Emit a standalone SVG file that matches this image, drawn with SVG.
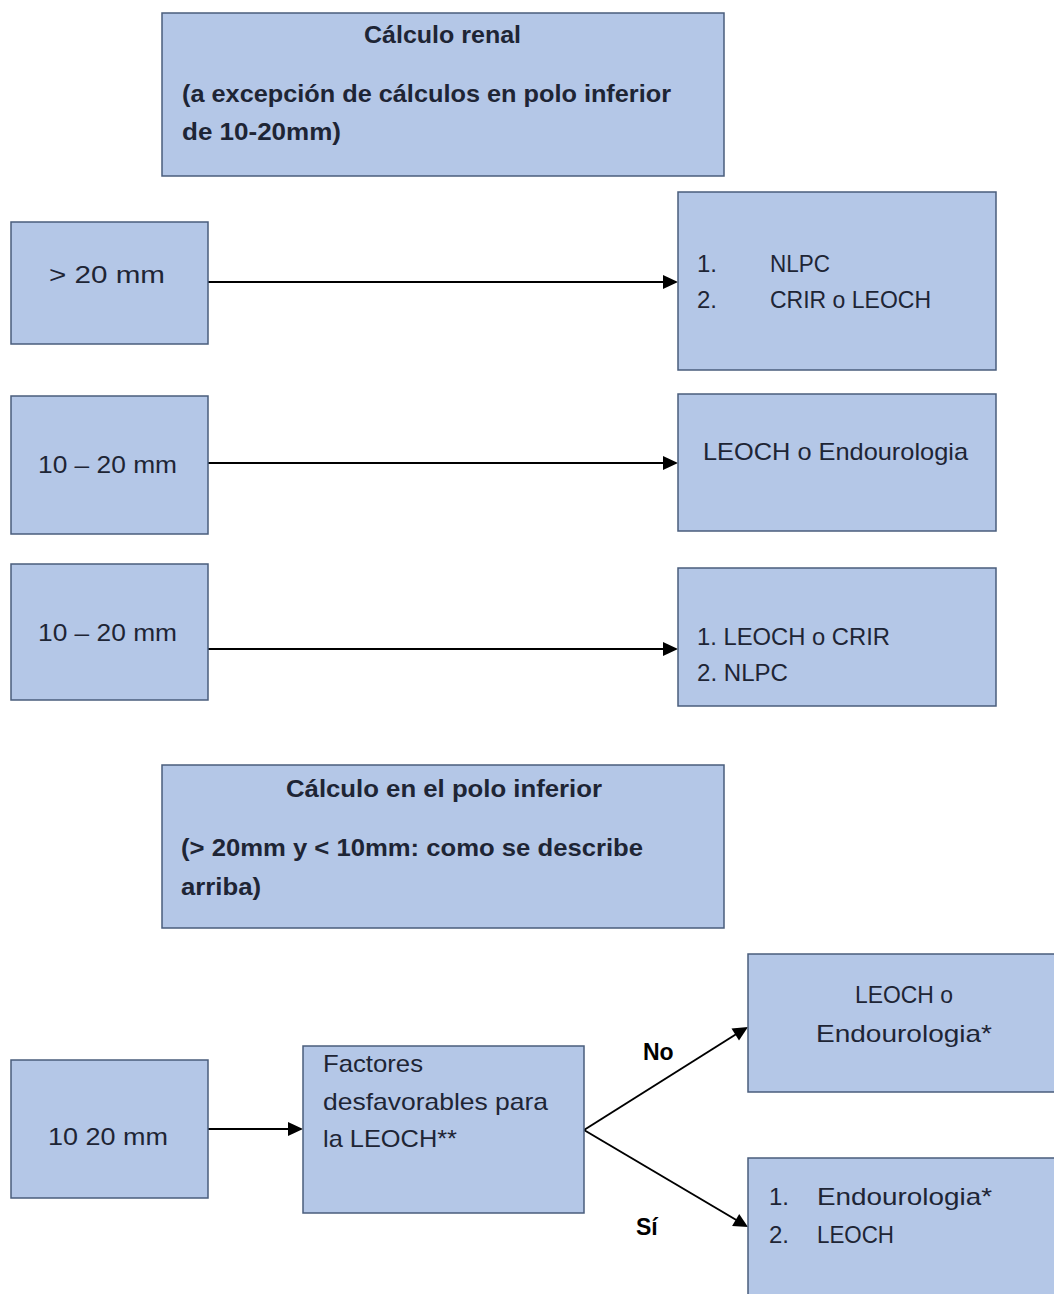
<svg xmlns="http://www.w3.org/2000/svg" width="1054" height="1294" viewBox="0 0 1054 1294">
<style>
.box{fill:#b4c7e7;stroke:#4a5d7c;stroke-width:1.5}
.t{font-family:"Liberation Sans",Arial,sans-serif;font-size:24px;fill:#1e2535}
.b{font-weight:bold}
.lbl{font-family:"Liberation Sans",Arial,sans-serif;font-size:23px;font-weight:bold;fill:#000}
.c{stroke:#000;stroke-width:2;fill:none}
.h{fill:#000}
</style>
<rect width="1054" height="1294" fill="#fff"/>
<g id="connectors">
<line class="c" x1="208" y1="282" x2="666" y2="282"/>
<path class="h" d="M663,275 L678,282 L663,289 z"/>
<line class="c" x1="208" y1="463" x2="666" y2="463"/>
<path class="h" d="M663,456 L678,463 L663,470 z"/>
<line class="c" x1="208" y1="649" x2="666" y2="649"/>
<path class="h" d="M663,642 L678,649 L663,656 z"/>
<line class="c" x1="208" y1="1129" x2="291" y2="1129"/>
<path class="h" d="M288,1122 L303,1129 L288,1136 z"/>
<line class="c" x1="584" y1="1130" x2="738" y2="1033"/>
<path class="h" d="M731.5,1028.6 L748,1027 L739.0,1040.5 z"/>
<line class="c" x1="584" y1="1130" x2="738" y2="1221"/>
<path class="h" d="M739.2,1214.1 L748,1227 L732.1,1226.1 z"/>
<text class="lbl" x="643" y="1060">No</text>
<text class="lbl" x="636" y="1235">Sí</text>
</g>
<g id="n_renal">
<rect class="box" x="162" y="13" width="562" height="163"/>
<text class="t b" x="364" y="43" textLength="157" lengthAdjust="spacingAndGlyphs">Cálculo renal</text>
<text class="t b" x="182" y="102" textLength="489" lengthAdjust="spacingAndGlyphs">(a excepción de cálculos en polo inferior</text>
<text class="t b" x="182" y="140" textLength="159" lengthAdjust="spacingAndGlyphs">de 10-20mm)</text>
</g>
<g id="n_gt20">
<rect class="box" x="11" y="222" width="197" height="122"/>
<text class="t" x="49" y="283" textLength="116" lengthAdjust="spacingAndGlyphs">&gt;  20 mm</text>
</g>
<g id="n_nlpc">
<rect class="box" x="678" y="192" width="318" height="178"/>
<text class="t" x="697" y="272">1.</text>
<text class="t" x="770" y="272" textLength="60" lengthAdjust="spacingAndGlyphs">NLPC</text>
<text class="t" x="697" y="308">2.</text>
<text class="t" x="770" y="308" textLength="161" lengthAdjust="spacingAndGlyphs">CRIR o LEOCH</text>
</g>
<g id="n_1020a">
<rect class="box" x="11" y="396" width="197" height="138"/>
<text class="t" x="38" y="473" textLength="139" lengthAdjust="spacingAndGlyphs">10 – 20 mm</text>
</g>
<g id="n_leoch_endo">
<rect class="box" x="678" y="394" width="318" height="137"/>
<text class="t" x="703" y="460" textLength="265" lengthAdjust="spacingAndGlyphs">LEOCH o Endourologia</text>
</g>
<g id="n_1020b">
<rect class="box" x="11" y="564" width="197" height="136"/>
<text class="t" x="38" y="641" textLength="139" lengthAdjust="spacingAndGlyphs">10 – 20 mm</text>
</g>
<g id="n_leoch_crir">
<rect class="box" x="678" y="568" width="318" height="138"/>
<text class="t" x="697" y="645" textLength="193" lengthAdjust="spacingAndGlyphs">1. LEOCH o CRIR</text>
<text class="t" x="697" y="681" textLength="91" lengthAdjust="spacingAndGlyphs">2. NLPC</text>
</g>
<g id="n_polo">
<rect class="box" x="162" y="765" width="562" height="163"/>
<text class="t b" x="286" y="797" textLength="316" lengthAdjust="spacingAndGlyphs">Cálculo en el polo inferior</text>
<text class="t b" x="181" y="856" textLength="462" lengthAdjust="spacingAndGlyphs">(&gt; 20mm y &lt; 10mm:  como se describe</text>
<text class="t b" x="181" y="895" textLength="80" lengthAdjust="spacingAndGlyphs">arriba)</text>
</g>
<g id="n_1020c">
<rect class="box" x="11" y="1060" width="197" height="138"/>
<text class="t" x="48" y="1145" textLength="120" lengthAdjust="spacingAndGlyphs">10 20  mm</text>
</g>
<g id="n_factores">
<rect class="box" x="303" y="1046" width="281" height="167"/>
<text class="t" x="323" y="1072" textLength="100" lengthAdjust="spacingAndGlyphs">Factores</text>
<text class="t" x="323" y="1110" textLength="225" lengthAdjust="spacingAndGlyphs">desfavorables para</text>
<text class="t" x="323" y="1147" textLength="134" lengthAdjust="spacingAndGlyphs">la LEOCH**</text>
</g>
<g id="n_no">
<rect class="box" x="748" y="954" width="310" height="138"/>
<text class="t" x="855" y="1003" textLength="98" lengthAdjust="spacingAndGlyphs">LEOCH o</text>
<text class="t" x="816" y="1042" textLength="176" lengthAdjust="spacingAndGlyphs">Endourologia*</text>
</g>
<g id="n_si">
<rect class="box" x="748" y="1158" width="310" height="140"/>
<text class="t" x="769" y="1205">1.</text>
<text class="t" x="817" y="1205" textLength="175" lengthAdjust="spacingAndGlyphs">Endourologia*</text>
<text class="t" x="769" y="1243">2.</text>
<text class="t" x="817" y="1243" textLength="77" lengthAdjust="spacingAndGlyphs">LEOCH</text>
</g>
</svg>
